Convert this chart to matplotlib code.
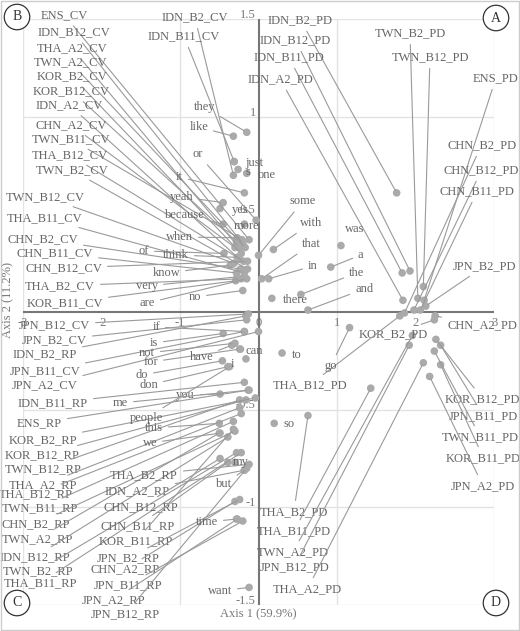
import matplotlib
matplotlib.use("Agg")
import matplotlib.pyplot as plt
from matplotlib.patches import Rectangle

plt.rcParams['font.family'] = ['Liberation Serif', 'DejaVu Serif']

# ---- data: category coordinates (Axis 1, Axis 2) ----
names = [
 # PD
 "IDN_B2_PD","IDN_B12_PD","IDN_B11_PD","IDN_A2_PD","TWN_B2_PD","TWN_B12_PD","ENS_PD",
 "CHN_B2_PD","CHN_B12_PD","CHN_B11_PD","JPN_B2_PD","CHN_A2_PD","KOR_B2_PD","THA_B12_PD",
 "KOR_B12_PD","JPN_B11_PD","TWN_B11_PD","KOR_B11_PD","JPN_A2_PD","THA_B2_PD","THA_B11_PD",
 "TWN_A2_PD","JPN_B12_PD","THA_A2_PD",
 # CV
 "ENS_CV","IDN_B12_CV","THA_A2_CV","TWN_A2_CV","KOR_B2_CV","KOR_B12_CV","IDN_A2_CV",
 "CHN_A2_CV","TWN_B11_CV","THA_B12_CV","TWN_B2_CV","TWN_B12_CV","THA_B11_CV","CHN_B2_CV",
 "CHN_B11_CV","CHN_B12_CV","THA_B2_CV","KOR_B11_CV","IDN_B2_CV","IDN_B11_CV",
 "JPN_B12_CV","JPN_B2_CV","JPN_B11_CV","JPN_A2_CV",
 # RP
 "IDN_B2_RP","IDN_B11_RP","ENS_RP","KOR_B2_RP","KOR_B12_RP","TWN_B12_RP","THA_A2_RP",
 "THA_B12_RP","TWN_B11_RP","CHN_B2_RP","TWN_A2_RP","IDN_B12_RP","TWN_B2_RP","THA_B11_RP",
 "THA_B2_RP","IDN_A2_RP","CHN_B12_RP","CHN_B11_RP","KOR_B11_RP","JPN_B2_RP","CHN_A2_RP",
 "JPN_B11_RP","JPN_A2_RP","JPN_B12_RP",
 # words
 "they","like","or","just","s","one","it","yeah","yes","because","more","when","of","think",
 "know","very","are","no","some","with","that","in","was","a","the","and","there",
 "if","is","not","for","have","can","i","do","don","you","me","people","this","we","my",
 "but","time","want","to","go","so",
]
axis1 = [
 1.76,1.93,1.83,1.84,2.03,2.10,2.11,
 1.86,1.98,2.06,2.13,2.25,2.24,1.80,
 2.26,2.32,2.24,2.32,2.18,0.63,1.43,
 1.96,1.92,2.10,
 -0.12,-0.20,-0.25,-0.17,-0.22,-0.28,-0.24,
 -0.30,-0.21,-0.19,-0.14,-0.31,-0.18,-0.23,
 -0.28,-0.14,-0.22,-0.29,-0.32,-0.31,
 -0.13,-0.15,-0.18,0.00,
 -0.16,-0.18,-0.13,-0.04,-0.16,-0.24,-0.24,
 -0.22,-0.32,-0.30,-0.50,-0.39,-0.28,-0.22,
 -0.12,-0.18,-0.49,-0.39,-0.32,-0.24,-0.30,
 -0.20,-0.27,-0.15,
 -0.15,-0.32,-0.03,-0.31,-0.26,-0.15,-0.18,-0.45,-0.49,-0.45,-0.18,-0.27,-0.44,-0.27,
 -0.36,-0.27,-0.15,-0.20,0.00,0.19,0.04,0.13,1.05,0.92,0.54,0.63,0.17,
 -0.18,-0.45,-0.30,-0.24,-0.34,-0.23,-0.16,-0.46,-0.39,-0.49,-0.12,-0.37,-0.50,-0.49,-0.30,
 -0.18,-0.28,-0.12,0.30,1.16,0.20,
]
axis2 = [
 0.61,0.21,0.20,0.06,0.07,0.13,0.06,
 -0.005,0.01,0.01,0.03,-0.02,-0.04,-0.02,
 -0.14,-0.17,-0.20,-0.27,-0.33,-0.53,-0.39,
 -0.12,-0.17,-0.26,
 0.37,0.35,0.33,0.33,0.30,0.36,0.27,
 0.33,0.37,0.26,0.22,0.25,0.20,0.22,
 0.20,0.26,0.17,0.16,0.70,0.77,
 -0.01,-0.04,-0.10,-0.10,
 -0.02,-0.36,-0.40,-0.44,-0.45,-0.45,-0.49,
 -0.52,-0.56,-0.61,-0.62,-0.64,-0.72,-0.72,
 -0.78,-0.81,-0.75,-0.77,-0.60,-0.96,-0.97,
 -1.07,-1.06,-0.80,
 0.92,0.90,0.47,0.77,0.73,0.71,0.61,0.56,0.53,0.45,0.45,0.38,0.30,0.28,
 0.24,0.18,0.17,0.11,0.29,0.32,0.17,0.17,0.34,0.23,0.09,0.01,0.07,
 -0.10,-0.11,-0.16,-0.19,-0.17,-0.19,-0.24,-0.25,-0.28,-0.42,-0.40,-0.28,-0.57,-0.62,-0.77,
 -0.81,-1.06,-1.41,-0.21,-0.08,-0.57,
]

# ---- layout: label anchor (figure pixels from top-left) and alignment ----
label_pos = {
 "IDN_B2_PD":(333,20,'r'),"IDN_B12_PD":(331,40,'r'),"IDN_B11_PD":(324,57,'r'),"IDN_A2_PD":(313,79,'r'),
 "TWN_B2_PD":(410,33,'c'),"TWN_B12_PD":(430,57,'c'),"ENS_PD":(473,78,'l'),"CHN_B2_PD":(447,145,'l'),
 "CHN_B12_PD":(444,170,'l'),"CHN_B11_PD":(440,191,'l'),"JPN_B2_PD":(453,266,'l'),"CHN_A2_PD":(447,325,'l'),
 "KOR_B2_PD":(393,334,'c'),"THA_B12_PD":(347,385,'r'),"KOR_B12_PD":(445,399,'l'),"JPN_B11_PD":(449,416,'l'),
 "TWN_B11_PD":(442,437,'l'),"KOR_B11_PD":(446,458,'l'),"JPN_A2_PD":(451,486,'l'),"THA_B2_PD":(328,512,'r'),
 "THA_B11_PD":(331,531,'r'),"TWN_A2_PD":(329,552,'r'),"JPN_B12_PD":(329,567,'r'),"THA_A2_PD":(342,589,'r'),
 "ENS_CV":(88,15,'r'),"IDN_B12_CV":(110,32,'r'),"THA_A2_CV":(107,48,'r'),"TWN_A2_CV":(107,62,'r'),
 "KOR_B2_CV":(107,76,'r'),"KOR_B12_CV":(110,91,'r'),"IDN_A2_CV":(103,105,'r'),"CHN_A2_CV":(107,125,'r'),
 "TWN_B11_CV":(110,139,'r'),"THA_B12_CV":(108,155,'r'),"TWN_B2_CV":(108,170,'r'),"TWN_B12_CV":(85,197,'r'),
 "THA_B11_CV":(82,218,'r'),"CHN_B2_CV":(78,239,'r'),"CHN_B11_CV":(93,253,'r'),"CHN_B12_CV":(102,268,'r'),
 "THA_B2_CV":(95,286,'r'),"KOR_B11_CV":(103,303,'r'),"IDN_B2_CV":(228,17,'r'),"IDN_B11_CV":(220,36,'r'),
 "JPN_B12_CV":(90,325,'r'),"JPN_B2_CV":(87,340,'r'),"JPN_B11_CV":(80,371,'r'),"JPN_A2_CV":(78,385,'r'),
 "IDN_B2_RP":(77,354,'r'),"IDN_B11_RP":(88,403,'r'),"ENS_RP":(62,423,'r'),"KOR_B2_RP":(77,440,'r'),
 "KOR_B12_RP":(80,455,'r'),"TWN_B12_RP":(82,469,'r'),"THA_A2_RP":(77,485,'r'),"THA_B12_RP":(73,494,'r'),
 "TWN_B11_RP":(78,508,'r'),"CHN_B2_RP":(70,524,'r'),"TWN_A2_RP":(73,539,'r'),"IDN_B12_RP":(70,557,'r'),
 "TWN_B2_RP":(73,571,'r'),"THA_B11_RP":(77,583,'r'),"THA_B2_RP":(178,475,'r'),"IDN_A2_RP":(170,491,'r'),
 "CHN_B12_RP":(178,507,'r'),"CHN_B11_RP":(175,526,'r'),"KOR_B11_RP":(173,541,'r'),"JPN_B2_RP":(160,558,'r'),
 "CHN_A2_RP":(160,569,'r'),"JPN_B11_RP":(162,585,'r'),"JPN_A2_RP":(145,600,'r'),"JPN_B12_RP":(160,614,'r'),
 "they":(215,107,'r'),"like":(208,127,'r'),"or":(203,154,'r'),"just":(245,163,'l'),"s":(248,172,'c'),
 "one":(258,175,'l'),"it":(183,177,'r'),"yeah":(194,197,'r'),"yes":(232,210,'l'),"because":(205,215,'r'),
 "more":(234,226,'l'),"when":(193,237,'r'),"of":(149,251,'r'),"think":(189,255,'r'),"know":(180,273,'r'),
 "very":(158,286,'r'),"are":(155,303,'r'),"no":(201,297,'r'),
 "some":(290,201,'l'),"with":(300,223,'l'),"that":(302,244,'l'),"in":(308,266,'l'),"was":(345,229,'l'),
 "a":(358,255,'l'),"the":(349,273,'l'),"and":(355,289,'l'),"there":(283,300,'l'),
 "if":(160,327,'r'),"is":(158,343,'r'),"not":(155,353,'r'),"for":(158,362,'r'),"have":(213,357,'r'),
 "can":(245,351,'l'),"i":(232,364,'c'),"do":(148,375,'r'),"don":(158,385,'r'),"you":(195,395,'r'),
 "me":(128,403,'r'),"people":(163,418,'r'),"this":(163,428,'r'),"we":(157,443,'r'),"my":(233,462,'l'),
 "but":(232,484,'r'),"time":(218,522,'r'),"want":(232,591,'r'),"to":(292,355,'l'),"go":(337,366,'r'),
 "so":(284,424,'l'),
}
no_leader = {"there","to","so","one","s","just","more","can","i","my","yes","was"}

W, H = 520, 631
fig = plt.figure(figsize=(W/100, H/100), dpi=100)
ax = fig.add_axes([23/W, (H-605)/H, 471/W, 586/H])
ax.set_xlim(-3, 3)
ax.set_ylim(-1.5, 1.5)
for s in ax.spines.values():
    s.set_visible(False)
ax.set_xticks([]); ax.set_yticks([])

gc = '#e3e3e3'
for gx in [-3, -1, 1, 3]:
    ax.axvline(gx, color=gc, lw=1, zorder=0)
for gy in [-1.5, -1, -0.5, 1, 1.5]:
    ax.axhline(gy, color=gc, lw=1, zorder=0)
ax.axhline(0, color='#777777', lw=1.5, zorder=1)
ax.axvline(0, color='#777777', lw=1.5, zorder=1)

tc = '#777777'
for v in [-3, -2, -1, 0, 1, 2, 3]:
    ax.annotate(f"{v}", (v, 0), xytext=(0, -8), textcoords='offset points',
                ha='center', va='center', fontsize=9, color=tc)
for v in [1.5, 1, 0.5, -0.5, -1, -1.5]:
    ax.annotate(f"{v:g}", (0, v), xytext=(-2, 3), textcoords='offset points',
                ha='right', va='center', fontsize=9, color=tc)

ax.scatter(axis1, axis2, s=30, color='#aaaaaa', zorder=3, edgecolors='none')

lc = '#9a9a9a'
for n, x, y in zip(names, axis1, axis2):
    px, py, al = label_pos[n]
    ha = {'r': 'right', 'l': 'left', 'c': 'center'}[al]
    if n in no_leader:
        ax.annotate(n, (x, y), xytext=(px, H - py), textcoords='figure pixels',
                    ha=ha, va='center', fontsize=9, color='#666666', zorder=4)
    else:
        ax.annotate(n, (x, y), xytext=(px, H - py), textcoords='figure pixels',
                    ha=ha, va='center', fontsize=9, color='#666666', zorder=4,
                    arrowprops=dict(arrowstyle='-', color=lc, lw=0.8,
                                    shrinkA=2, shrinkB=2))

fig.text(258/W, 1 - 614/H, "Axis 1 (59.9%)", ha='center', va='center', fontsize=9, color=tc)
fig.text(8/W, 1 - 300/H, "Axis 2 (11.2%)", ha='center', va='center', fontsize=9,
         color=tc, rotation=90)

for letter, (px, py) in {"A": (496, 18), "B": (17, 17), "C": (17, 603), "D": (496, 603)}.items():
    fig.text(px/W, 1 - py/H, letter, ha='center', va='center', fontsize=10, color='#333333',
             bbox=dict(boxstyle='circle,pad=0.45', fc='white', ec='#333333', lw=0.9))

fig.patches.append(Rectangle((1/W, 1/H), (W-2)/W, (H-2)/H, transform=fig.transFigure,
                             fill=False, ec='#cccccc', lw=1))
fig.savefig("out.png", dpi=100)
